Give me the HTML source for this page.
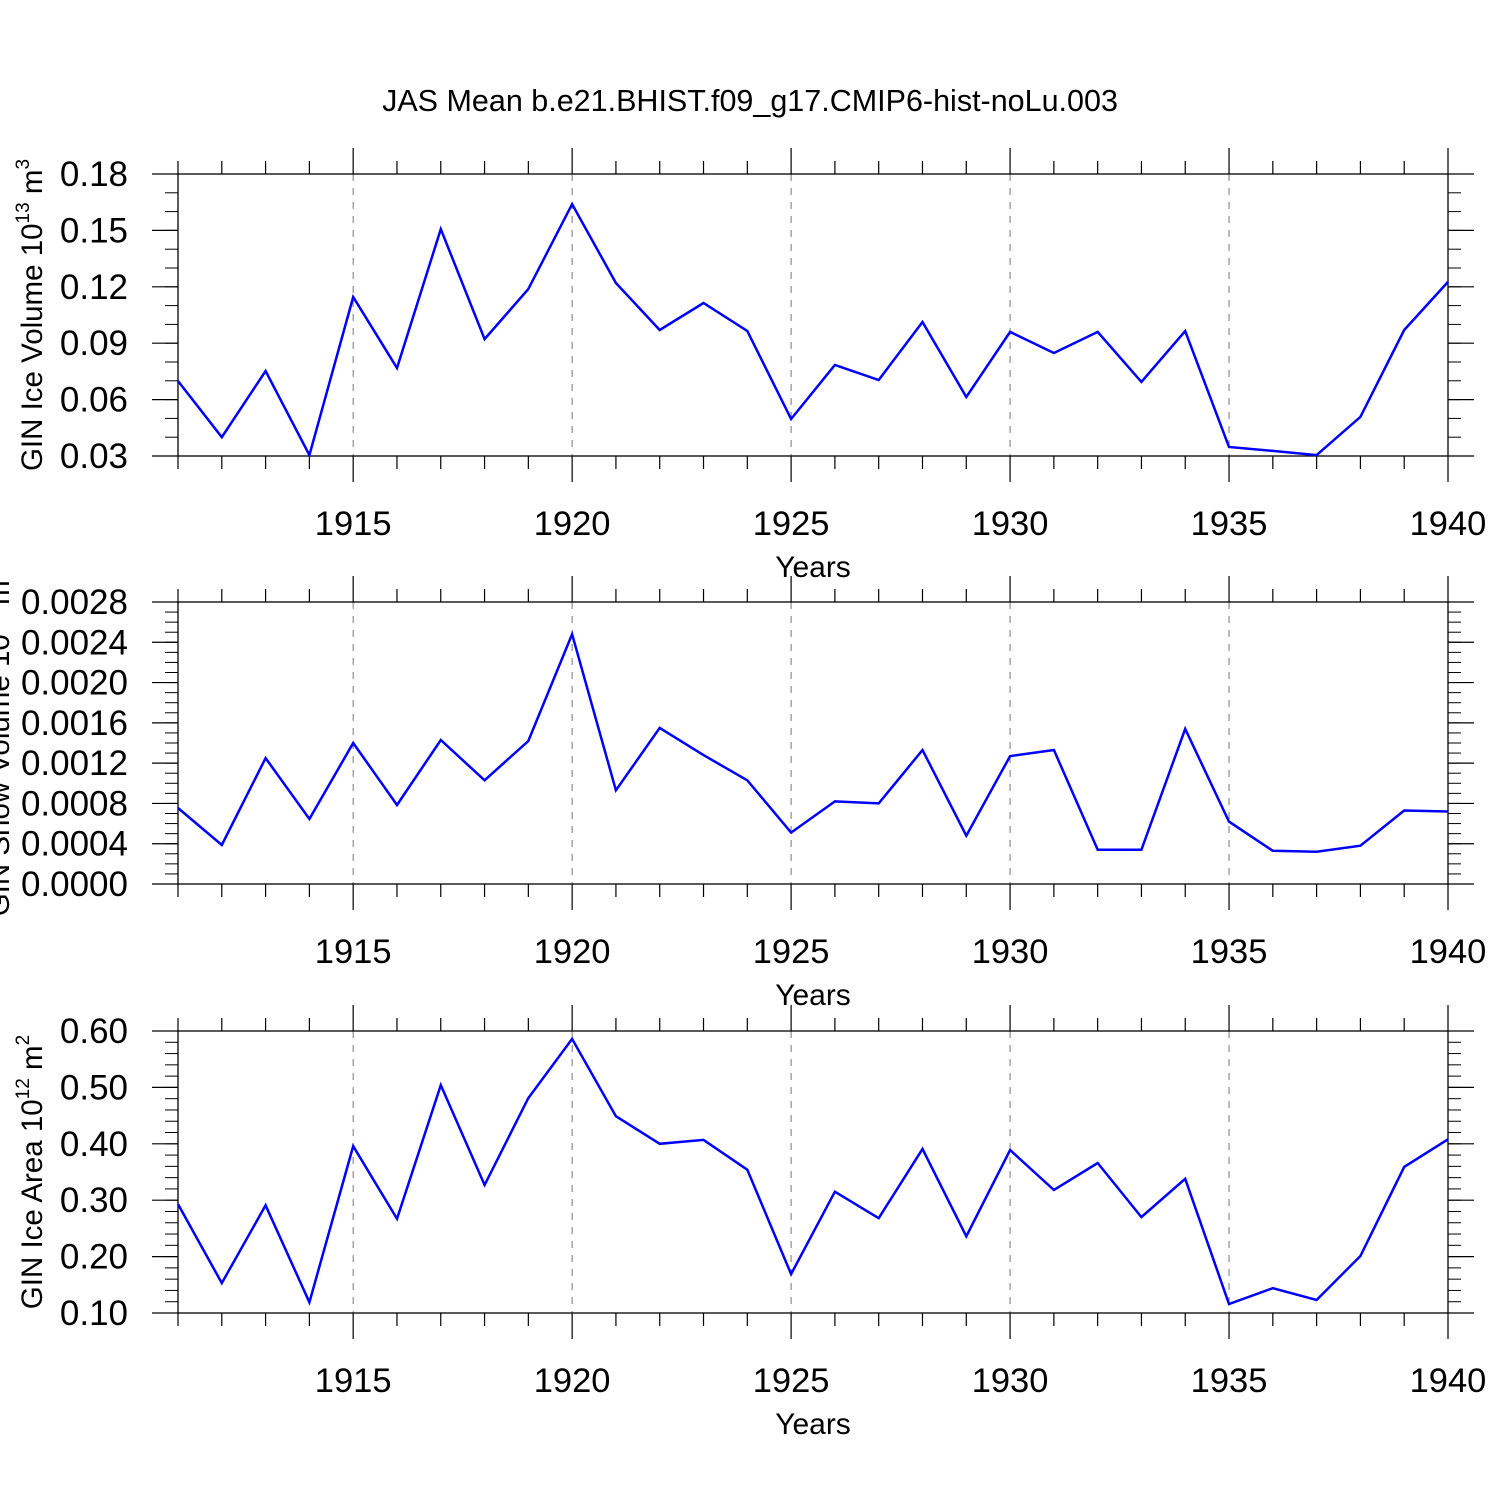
<!DOCTYPE html>
<html><head><meta charset="utf-8"><style>
body{margin:0;background:#fff}
svg{display:block}
text{font-family:"Liberation Sans",sans-serif;fill:#000}
</style></head><body>
<svg id="c" width="1500" height="1500" viewBox="0 0 1500 1500" xmlns="http://www.w3.org/2000/svg">
<text x="750" y="111" font-size="30.5" text-anchor="middle">JAS Mean b.e21.BHIST.f09_g17.CMIP6-hist-noLu.003</text>
</svg>
<script>
const years = [1911,1912,1913,1914,1915,1916,1917,1918,1919,1920,1921,1922,1923,1924,1925,1926,1927,1928,1929,1930,1931,1932,1933,1934,1935,1936,1937,1938,1939,1940];
const iceVolume = [0.0699,0.040,0.0752,0.0305,0.1146,0.0768,0.1507,0.0922,0.1188,0.164,0.122,0.097,0.1114,0.0965,0.0497,0.0784,0.0704,0.1013,0.0614,0.096,0.0848,0.096,0.0694,0.0965,0.0348,0.0327,0.0305,0.0508,0.097,0.1226];
const snowVolume = [0.000755,0.000387,0.00125,0.000645,0.0014,0.000784,0.00143,0.00103,0.00142,0.00248,0.00093,0.00155,0.00128,0.00103,0.00051,0.00082,0.0008,0.00133,0.00048,0.00127,0.00133,0.00034,0.00034,0.00154,0.00062,0.00033,0.00032,0.00038,0.00073,0.00072];
const iceArea = [0.293,0.153,0.291,0.119,0.396,0.267,0.504,0.327,0.481,0.586,0.449,0.400,0.407,0.354,0.169,0.315,0.268,0.391,0.236,0.389,0.318,0.366,0.270,0.338,0.116,0.144,0.123,0.201,0.359,0.408];
const xTicks = [1915,1920,1925,1930,1935,1940];
const volTicks = ["0.03","0.06","0.09","0.12","0.15","0.18"];
const snowTicks = ["0.0000","0.0004","0.0008","0.0012","0.0016","0.0020","0.0024","0.0028"];
const areaTicks = ["0.10","0.20","0.30","0.40","0.50","0.60"];

const NS="http://www.w3.org/2000/svg";
const svg=document.getElementById('c');
const X0=178,X1=1448;
const xs=y=>X0+(y-1911)/(1940-1911)*(X1-X0);
function mk(tag,at,parent){const e=document.createElementNS(NS,tag);for(const k in at)e.setAttribute(k,at[k]);(parent||svg).appendChild(e);return e;}

const panels=[
 {name:'ice-volume',top:174,bot:456,data:iceVolume,ticks:volTicks,minor:0.01,label:'GIN Ice Volume 10',sup:'13',unit:' m',usup:'3',lx:32},
 {name:'snow-volume',top:602,bot:884,data:snowVolume,ticks:snowTicks,minor:0.0001,label:'GIN Snow Volume 10',sup:'13',unit:' m',usup:'3',lx:-1},
 {name:'ice-area',top:1031,bot:1313,data:iceArea,ticks:areaTicks,minor:0.02,label:'GIN Ice Area 10',sup:'12',unit:' m',usup:'2',lx:32}
];
panels.forEach(p=>{
 const g=mk('g',{});
 
 
 const vmin=parseFloat(p.ticks[0]),vmax=parseFloat(p.ticks[p.ticks.length-1]);
 const ys=v=>p.bot-(v-vmin)/(vmax-vmin)*(p.bot-p.top);
 xTicks.forEach(t=>{ if(t<1940){const l=mk('line',{x1:xs(t),x2:xs(t),y1:p.top,y2:p.bot,stroke:'#777','stroke-width':1,'stroke-dasharray':'7,7'},g);
  
  }});
 const fr=mk('rect',{x:X0,y:p.top,width:X1-X0,height:p.bot-p.top,fill:'none',stroke:'#000','stroke-width':1.3},g);
 
 
 years.forEach(yr=>{const maj=xTicks.includes(yr);const L=maj?26:13;const x=xs(yr);
  mk('line',{x1:x,x2:x,y1:p.top-L,y2:p.top,stroke:'#000','stroke-width':1.2},g);
  mk('line',{x1:x,x2:x,y1:p.bot,y2:p.bot+L,stroke:'#000','stroke-width':1.2},g);});
 const n=Math.round((vmax-vmin)/p.minor);
 for(let i=0;i<=n;i++){const y=ys(vmin+i*p.minor);
  mk('line',{x1:X0-13,x2:X0,y1:y,y2:y,stroke:'#000','stroke-width':1},g);
  mk('line',{x1:X1,x2:X1+13,y1:y,y2:y,stroke:'#000','stroke-width':1},g);}
 p.ticks.forEach(t=>{const y=ys(parseFloat(t));
  mk('line',{x1:X0-26,x2:X0,y1:y,y2:y,stroke:'#000','stroke-width':1.2},g);
  mk('line',{x1:X1,x2:X1+26,y1:y,y2:y,stroke:'#000','stroke-width':1.2},g);
  const tx=mk('text',{x:128,y:y+12,'font-size':35,'text-anchor':'end'},g);tx.textContent=t;
  
  });
 xTicks.forEach(t=>{const tx=mk('text',{x:xs(t),y:p.bot+79,'font-size':34.5,'text-anchor':'middle'},g);tx.textContent=t;
  
  });
 const xt=mk('text',{x:813,y:p.bot+121,'font-size':30,'text-anchor':'middle'},g);xt.textContent='Years';
 
 
 const cy=(p.top+p.bot)/2;
 const yt=mk('text',{x:p.lx,y:cy,'font-size':29.5,'text-anchor':'middle',transform:`rotate(-90 ${p.lx} ${cy})`,dy:10},g);
 yt.innerHTML=p.label+'<tspan font-size="19" dy="-13">'+p.sup+'</tspan><tspan dy="13">'+p.unit+'</tspan><tspan font-size="19" dy="-13">'+p.usup+'</tspan>';
 
 
 const pts=p.data.map((v,i)=>xs(years[i]).toFixed(1)+','+ys(v).toFixed(1)).join(' ');
 const pl=mk('polyline',{points:pts,fill:'none',stroke:'#0000ff','stroke-width':2.5,'stroke-linejoin':'miter'},g);
 
 
});
</script>
</body></html>
